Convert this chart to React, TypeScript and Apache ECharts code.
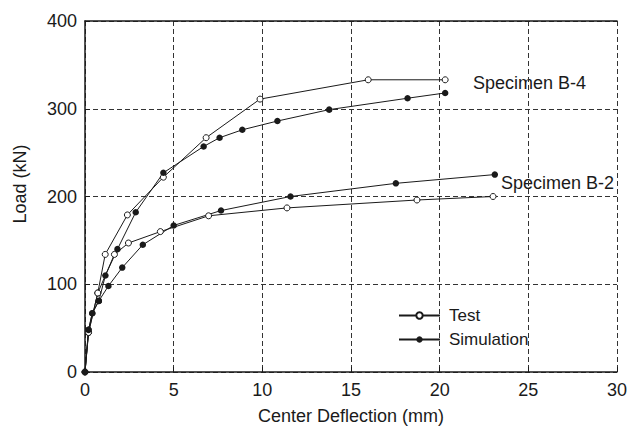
import React, { useEffect, useRef } from "react";
import * as echarts from "echarts";

// x: center deflection (mm), y: load (kN)
const testB4: [number, number][] = [
  [0, 0], [0.2, 45], [0.72, 90], [1.14, 134], [2.39, 179], [4.42, 222],
  [6.83, 267], [9.87, 311], [15.97, 333], [20.31, 333],
];
const simB4: [number, number][] = [
  [0, 0], [0.2, 48], [0.41, 67], [0.78, 81], [1.15, 110], [1.83, 140],
  [2.86, 182], [4.42, 227], [6.69, 257], [7.59, 267], [8.87, 276],
  [10.85, 286], [13.77, 299], [18.19, 312], [20.31, 318],
];
const testB2: [number, number][] = [
  [0, 0], [0.2, 45], [0.72, 90], [1.66, 134], [2.45, 147], [4.25, 160],
  [6.97, 178], [11.39, 187], [18.72, 196], [23.01, 200],
];
const simB2: [number, number][] = [
  [0, 0], [0.2, 48], [0.41, 67], [0.78, 81], [1.32, 98], [2.1, 119],
  [3.26, 145], [5.0, 167], [7.67, 184], [11.59, 200], [17.53, 215],
  [23.11, 225],
];
const legendNames = ["Test", "Simulation"];
const xTitle = "Center Deflection (mm)";
const yTitle = "Load (kN)";
const labelB4 = "Specimen B-4";
const labelB2 = "Specimen B-2";

const FONT = "'Liberation Sans', Arial, Helvetica, sans-serif";
const INK = "#1a1a1a";

export default function App() {
  const ref = useRef<HTMLDivElement>(null);
  useEffect(() => {
    if (!ref.current) return;
    const chart = echarts.init(ref.current, null, { renderer: "svg" });
    const testStyle = {
      type: "line" as const,
      name: "Test",
      symbol: "circle",
      symbolSize: 6,
      itemStyle: { color: "#fff", borderColor: INK, borderWidth: 1 },
      lineStyle: { color: INK, width: 1 },
      z: 3,
    };
    const simStyle = {
      type: "line" as const,
      name: "Simulation",
      symbol: "circle",
      symbolSize: 6.5,
      itemStyle: { color: INK, borderColor: INK, borderWidth: 0 },
      lineStyle: { color: INK, width: 1 },
      z: 3,
    };
    chart.setOption({
      animation: false,
      backgroundColor: "#fff",
      textStyle: { fontFamily: FONT },
      grid: { left: 85, right: 12, top: 21, bottom: 56, containLabel: false },
      xAxis: [
        {
          type: "value",
          min: 0,
          max: 30,
          interval: 5,
          position: "bottom",
          name: xTitle,
          nameLocation: "middle",
          nameGap: 35,
          nameTextStyle: { fontSize: 18, color: INK, fontFamily: FONT },
          axisLine: { show: true, onZero: false, lineStyle: { color: INK, width: 1.5 } },
          axisTick: { show: true, inside: true, length: 5, lineStyle: { color: INK } },
          axisLabel: { fontSize: 18, color: INK, margin: 9, fontFamily: FONT },
          splitLine: { show: true, lineStyle: { type: [5, 3], color: "#333", width: 1 } },
        },
        {
          type: "value",
          min: 0,
          max: 30,
          interval: 5,
          position: "top",
          axisLine: { show: true, onZero: false, lineStyle: { color: INK, width: 1.5 } },
          axisTick: { show: false },
          axisLabel: { show: false },
          splitLine: { show: false },
        },
      ],
      yAxis: {
        type: "value",
        min: 0,
        max: 400,
        interval: 100,
        axisLine: { show: true, onZero: false, lineStyle: { color: INK, width: 1.5 } },
        axisTick: { show: true, inside: true, length: 5, lineStyle: { color: INK } },
        axisLabel: { fontSize: 18, color: INK, margin: 8, fontFamily: FONT },
        splitLine: { show: true, lineStyle: { type: [5, 3], color: "#333", width: 1 } },
      },
      legend: {
        data: legendNames,
        orient: "vertical",
        left: 398,
        top: 307,
        padding: 0,
        itemWidth: 41,
        itemHeight: 8,
        itemGap: 7,
        textStyle: { fontSize: 17, color: INK, fontFamily: FONT, lineHeight: 17, padding: [0, 0, 0, 4] },
      },
      series: [
        { ...testStyle, data: testB4 },
        { ...simStyle, data: simB4 },
        { ...testStyle, data: testB2 },
        { ...simStyle, data: simB2 },
      ],
      graphic: [
        {
          type: "text",
          x: 20,
          y: 184,
          rotation: Math.PI / 2,
          style: { text: yTitle, fontSize: 18, fill: INK, font: `18px ${FONT}`, align: "center", verticalAlign: "middle" },
        },
        {
          type: "text",
          x: 473,
          y: 83,
          style: { text: labelB4, fontSize: 18, fill: INK, font: `18px ${FONT}`, align: "left", verticalAlign: "middle" },
        },
        {
          type: "text",
          x: 501,
          y: 183,
          style: { text: labelB2, fontSize: 18, fill: INK, font: `18px ${FONT}`, align: "left", verticalAlign: "middle" },
        },
      ],
    });
    return () => chart.dispose();
  }, []);
  return (
    <div
      ref={ref}
      style={{ position: "fixed", left: 0, top: 0, width: 630, height: 430 }}
    />
  );
}
